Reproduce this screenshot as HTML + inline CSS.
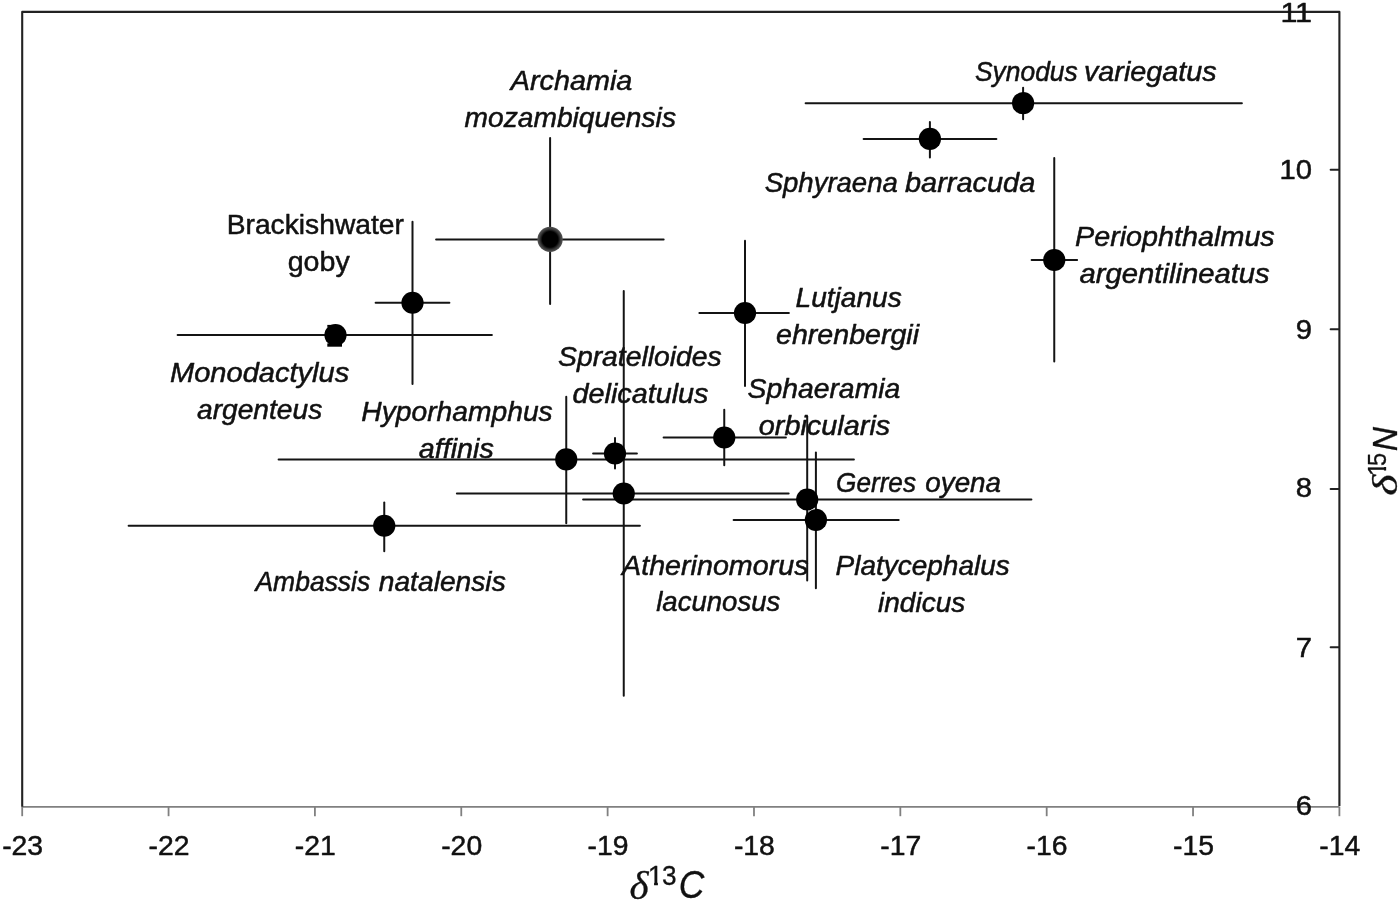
<!DOCTYPE html>
<html lang="en"><head><meta charset="utf-8"><title>Stable isotope biplot</title>
<style>
html,body{margin:0;padding:0;background:#fff}
body{width:1400px;height:901px;overflow:hidden}
svg{display:block}
text{font-family:"Liberation Sans",sans-serif;fill:#111;stroke:#111;stroke-width:0.5px;stroke-linejoin:round}
.i{font-style:italic}
.ser{font-family:"Liberation Serif",serif;font-style:italic}
.t{stroke-width:0.3px}
</style></head><body>
<svg width="1400" height="901" viewBox="0 0 1400 901">
<defs><radialGradient id="rg"><stop offset="0" stop-color="#000"/><stop offset="0.62" stop-color="#000"/><stop offset="0.82" stop-color="#383838"/><stop offset="1" stop-color="#555"/></radialGradient></defs>
<rect width="1400" height="901" fill="#fff"/>
<g stroke="#808080" stroke-width="1.8" fill="none">
<line x1="22.2" y1="806.8" x2="1339.4" y2="806.8"/>
<line x1="22.20" y1="806.7" x2="22.20" y2="816.2"/>
<line x1="168.56" y1="806.7" x2="168.56" y2="816.2"/>
<line x1="314.91" y1="806.7" x2="314.91" y2="816.2"/>
<line x1="461.27" y1="806.7" x2="461.27" y2="816.2"/>
<line x1="607.62" y1="806.7" x2="607.62" y2="816.2"/>
<line x1="753.98" y1="806.7" x2="753.98" y2="816.2"/>
<line x1="900.33" y1="806.7" x2="900.33" y2="816.2"/>
<line x1="1046.69" y1="806.7" x2="1046.69" y2="816.2"/>
<line x1="1193.04" y1="806.7" x2="1193.04" y2="816.2"/>
<line x1="1339.40" y1="806.7" x2="1339.40" y2="816.2"/>
</g>
<path d="M22.2 806.7 V11.9 H1339.4 V805.9" stroke="#222" stroke-width="2.1" fill="none" stroke-linejoin="round"/>
<g stroke="#222" stroke-width="1.9" stroke-linecap="round">
<line x1="1330.6" y1="169.80" x2="1338.8" y2="169.80"/>
<line x1="1330.6" y1="329.30" x2="1338.8" y2="329.30"/>
<line x1="1330.6" y1="489.00" x2="1338.8" y2="489.00"/>
<line x1="1330.6" y1="647.30" x2="1338.8" y2="647.30"/>
</g>
<g stroke="#141414" stroke-width="2" stroke-linecap="round">
<line x1="805.60" y1="103.2" x2="1241.90" y2="103.2"/><line x1="1023.1" y1="87.80" x2="1023.1" y2="119.20"/>
<line x1="863.60" y1="138.9" x2="996.40" y2="138.9"/><line x1="929.9" y1="121.90" x2="929.9" y2="157.50"/>
<line x1="1031.60" y1="260" x2="1077.15" y2="260"/><line x1="1054.25" y1="158.10" x2="1054.25" y2="361.40"/>
<line x1="436.10" y1="239.4" x2="663.65" y2="239.4"/><line x1="550.1" y1="138.10" x2="550.1" y2="303.90"/>
<line x1="375.60" y1="302.75" x2="449.40" y2="302.75"/><line x1="412.5" y1="221.85" x2="412.5" y2="383.90"/>
<line x1="177.60" y1="335" x2="491.90" y2="335"/>
<line x1="699.35" y1="313" x2="788.90" y2="313"/><line x1="745" y1="240.85" x2="745" y2="385.90"/>
<line x1="663.60" y1="437.5" x2="785.90" y2="437.5"/><line x1="724.25" y1="409.85" x2="724.25" y2="465.15"/>
<line x1="593.10" y1="453.5" x2="636.90" y2="453.5"/><line x1="615" y1="437.90" x2="615" y2="468.40"/>
<line x1="278.60" y1="459.4" x2="853.90" y2="459.4"/><line x1="566.25" y1="396.85" x2="566.25" y2="523.15"/>
<line x1="456.85" y1="493.5" x2="788.65" y2="493.5"/><line x1="623.75" y1="291.10" x2="623.75" y2="695.65"/>
<line x1="583.10" y1="499.5" x2="1031.40" y2="499.5"/><line x1="807.2" y1="416.60" x2="807.2" y2="580.40"/>
<line x1="733.60" y1="519.9" x2="898.70" y2="519.9"/><line x1="815.9" y1="452.60" x2="815.9" y2="588.15"/>
<line x1="128.60" y1="525.75" x2="639.90" y2="525.75"/><line x1="384.25" y1="502.60" x2="384.25" y2="551.15"/>
</g>
<g fill="#000">
<circle cx="1023.1" cy="103.2" r="11.1"/>
<circle cx="929.9" cy="138.9" r="11.1"/>
<circle cx="1054.25" cy="260" r="11.1"/>
<circle cx="550.1" cy="239.4" r="12.6" fill="url(#rg)"/>
<circle cx="412.5" cy="302.75" r="11.1"/>
<circle cx="335.5" cy="335" r="11.1"/>
<circle cx="745" cy="313" r="11.1"/>
<circle cx="724.25" cy="437.5" r="11.1"/>
<circle cx="615" cy="453.5" r="11.1"/>
<circle cx="566.25" cy="459.4" r="11.1"/>
<circle cx="623.75" cy="493.5" r="11.1"/>
<circle cx="807.2" cy="499.5" r="11.1"/>
<circle cx="815.9" cy="519.9" r="11.1"/>
<circle cx="384.25" cy="525.75" r="11.1"/>
<rect x="327.3" y="343.4" width="14.7" height="3.3"/>
<rect x="327.3" y="324.9" width="8" height="2"/>
<path d="M808.1 512.3 A11.1 11.1 0 0 1 815 508.85" fill="none" stroke="#fff" stroke-width="0.7"/>
</g>
<text class="i" font-size="27.5"><tspan x="975.00" y="80.5" textLength="102.76" lengthAdjust="spacingAndGlyphs">Synodus</tspan> <tspan x="1083.95" y="80.5" textLength="132.78" lengthAdjust="spacingAndGlyphs">variegatus</tspan></text>
<text class="i" font-size="27.5"><tspan x="764.70" y="191.9" textLength="133.09" lengthAdjust="spacingAndGlyphs">Sphyraena</tspan> <tspan x="905.00" y="191.9" textLength="130.31" lengthAdjust="spacingAndGlyphs">barracuda</tspan></text>
<text class="i" font-size="27.5"><tspan x="1075.00" y="245.7" textLength="199.74" lengthAdjust="spacingAndGlyphs">Periophthalmus</tspan> <tspan x="1079.50" y="282.8" textLength="190.23" lengthAdjust="spacingAndGlyphs">argentilineatus</tspan></text>
<text class="i" font-size="27.5"><tspan x="510.84" y="89.5" textLength="121.47" lengthAdjust="spacingAndGlyphs">Archamia</tspan> <tspan x="464.50" y="126.7" textLength="211.49" lengthAdjust="spacingAndGlyphs">mozambiquensis</tspan></text>
<text class="i" font-size="27.5"><tspan x="795.50" y="306.7" textLength="106.24" lengthAdjust="spacingAndGlyphs">Lutjanus</tspan> <tspan x="776.00" y="343.5" textLength="143.07" lengthAdjust="spacingAndGlyphs">ehrenbergii</tspan></text>
<text class="i" font-size="27.5"><tspan x="170.00" y="382" textLength="179.24" lengthAdjust="spacingAndGlyphs">Monodactylus</tspan> <tspan x="197.00" y="419.2" textLength="125.24" lengthAdjust="spacingAndGlyphs">argenteus</tspan></text>
<text class="i" font-size="27.5"><tspan x="361.25" y="420.5" textLength="191.49" lengthAdjust="spacingAndGlyphs">Hyporhamphus</tspan> <tspan x="418.75" y="457.5" textLength="74.99" lengthAdjust="spacingAndGlyphs">affinis</tspan></text>
<text class="i" font-size="27.5"><tspan x="558.00" y="365.9" textLength="163.74" lengthAdjust="spacingAndGlyphs">Spratelloides</tspan> <tspan x="572.50" y="402.8" textLength="135.99" lengthAdjust="spacingAndGlyphs">delicatulus</tspan></text>
<text class="i" font-size="27.5"><tspan x="747.50" y="398.3" textLength="152.80" lengthAdjust="spacingAndGlyphs">Sphaeramia</tspan> <tspan x="758.75" y="434.7" textLength="131.49" lengthAdjust="spacingAndGlyphs">orbicularis</tspan></text>
<text class="i" font-size="27.5"><tspan x="836.05" y="492" textLength="79.96" lengthAdjust="spacingAndGlyphs">Gerres</tspan> <tspan x="925.30" y="492" textLength="75.75" lengthAdjust="spacingAndGlyphs">oyena</tspan></text>
<text class="i" font-size="27.5"><tspan x="622.08" y="574.5" textLength="186.40" lengthAdjust="spacingAndGlyphs">Atherinomorus</tspan> <tspan x="656.25" y="611" textLength="124.00" lengthAdjust="spacingAndGlyphs">lacunosus</tspan></text>
<text class="i" font-size="27.5"><tspan x="835.50" y="575" textLength="174.25" lengthAdjust="spacingAndGlyphs">Platycephalus</tspan> <tspan x="878.00" y="612.1" textLength="87.25" lengthAdjust="spacingAndGlyphs">indicus</tspan></text>
<text class="i" font-size="27.5"><tspan x="255.43" y="590.5" textLength="114.83" lengthAdjust="spacingAndGlyphs">Ambassis</tspan> <tspan x="378.75" y="590.5" textLength="126.99" lengthAdjust="spacingAndGlyphs">natalensis</tspan></text>
<text font-size="27.5"><tspan x="226.70" y="234" textLength="177.21" lengthAdjust="spacingAndGlyphs">Brackishwater</tspan> <tspan x="287.71" y="270.8" textLength="62.03" lengthAdjust="spacingAndGlyphs">goby</tspan></text>
<text x="1280.42" y="21.9" font-size="28.0" textLength="31.71" lengthAdjust="spacingAndGlyphs">11</text>
<text x="1279.61" y="179.3" font-size="28.0" textLength="32.48" lengthAdjust="spacingAndGlyphs">10</text>
<text x="1295.86" y="338.8" font-size="28.0" textLength="16.24" lengthAdjust="spacingAndGlyphs">9</text>
<text x="1295.86" y="497.3" font-size="28.0" textLength="16.24" lengthAdjust="spacingAndGlyphs">8</text>
<text x="1295.86" y="656.6" font-size="28.0" textLength="16.24" lengthAdjust="spacingAndGlyphs">7</text>
<text x="1295.86" y="814.5" font-size="28.0" textLength="16.24" lengthAdjust="spacingAndGlyphs">6</text>
<text class="ser t" x="629.46" y="898.6" font-size="39.5" textLength="19.08" lengthAdjust="spacingAndGlyphs">δ</text>
<clipPath id="c1"><polygon points="0,-28 28,-28 28,-3.49 10.22,-3.49 10.22,2 6.34,2 6.34,-3.49 0,-3.49"/></clipPath>
<g transform="translate(647.85,885.3) scale(0.982,1)"><text class="t" x="0" y="0" font-size="28" clip-path="url(#c1)">1</text></g>
<text class="t" x="661.96" y="885.3" font-size="28" textLength="14.57" lengthAdjust="spacingAndGlyphs">3</text>
<text class="i t" x="678.65" y="898.2" font-size="38.2" textLength="25.56" lengthAdjust="spacingAndGlyphs">C</text>
<g transform="translate(1397,495.5) rotate(-90)">
<text class="ser t" x="-0.35" y="0.3" font-size="36.5" textLength="21.26" lengthAdjust="spacingAndGlyphs">δ</text>
<clipPath id="c2"><polygon points="0,-26.6 26.6,-26.6 26.6,-3.39 9.74,-3.39 9.74,2 5.99,2 5.99,-3.39 0,-3.39"/></clipPath>
<g transform="translate(19.25,-11.2) scale(0.957,1)"><text class="t" x="0" y="0" font-size="26.6" clip-path="url(#c2)">1</text></g>
<text class="t" x="29.42" y="-11.2" font-size="26.6" textLength="13.08" lengthAdjust="spacingAndGlyphs">5</text>
<text class="i t" x="44.24" y="0.1" font-size="35" textLength="24.26" lengthAdjust="spacingAndGlyphs">N</text>
</g>
<text x="22.60" y="855.1" font-size="28.0" text-anchor="middle" textLength="40.95" lengthAdjust="spacingAndGlyphs">-23</text>
<text x="168.96" y="855.1" font-size="28.0" text-anchor="middle" textLength="40.95" lengthAdjust="spacingAndGlyphs">-22</text>
<text x="315.31" y="855.1" font-size="28.0" text-anchor="middle" textLength="40.95" lengthAdjust="spacingAndGlyphs">-21</text>
<text x="461.67" y="855.1" font-size="28.0" text-anchor="middle" textLength="40.95" lengthAdjust="spacingAndGlyphs">-20</text>
<text x="608.02" y="855.1" font-size="28.0" text-anchor="middle" textLength="40.95" lengthAdjust="spacingAndGlyphs">-19</text>
<text x="754.38" y="855.1" font-size="28.0" text-anchor="middle" textLength="40.95" lengthAdjust="spacingAndGlyphs">-18</text>
<text x="900.73" y="855.1" font-size="28.0" text-anchor="middle" textLength="40.95" lengthAdjust="spacingAndGlyphs">-17</text>
<text x="1047.09" y="855.1" font-size="28.0" text-anchor="middle" textLength="40.95" lengthAdjust="spacingAndGlyphs">-16</text>
<text x="1193.44" y="855.1" font-size="28.0" text-anchor="middle" textLength="40.95" lengthAdjust="spacingAndGlyphs">-15</text>
<text x="1339.80" y="855.1" font-size="28.0" text-anchor="middle" textLength="40.95" lengthAdjust="spacingAndGlyphs">-14</text>
</svg>
</body></html>
